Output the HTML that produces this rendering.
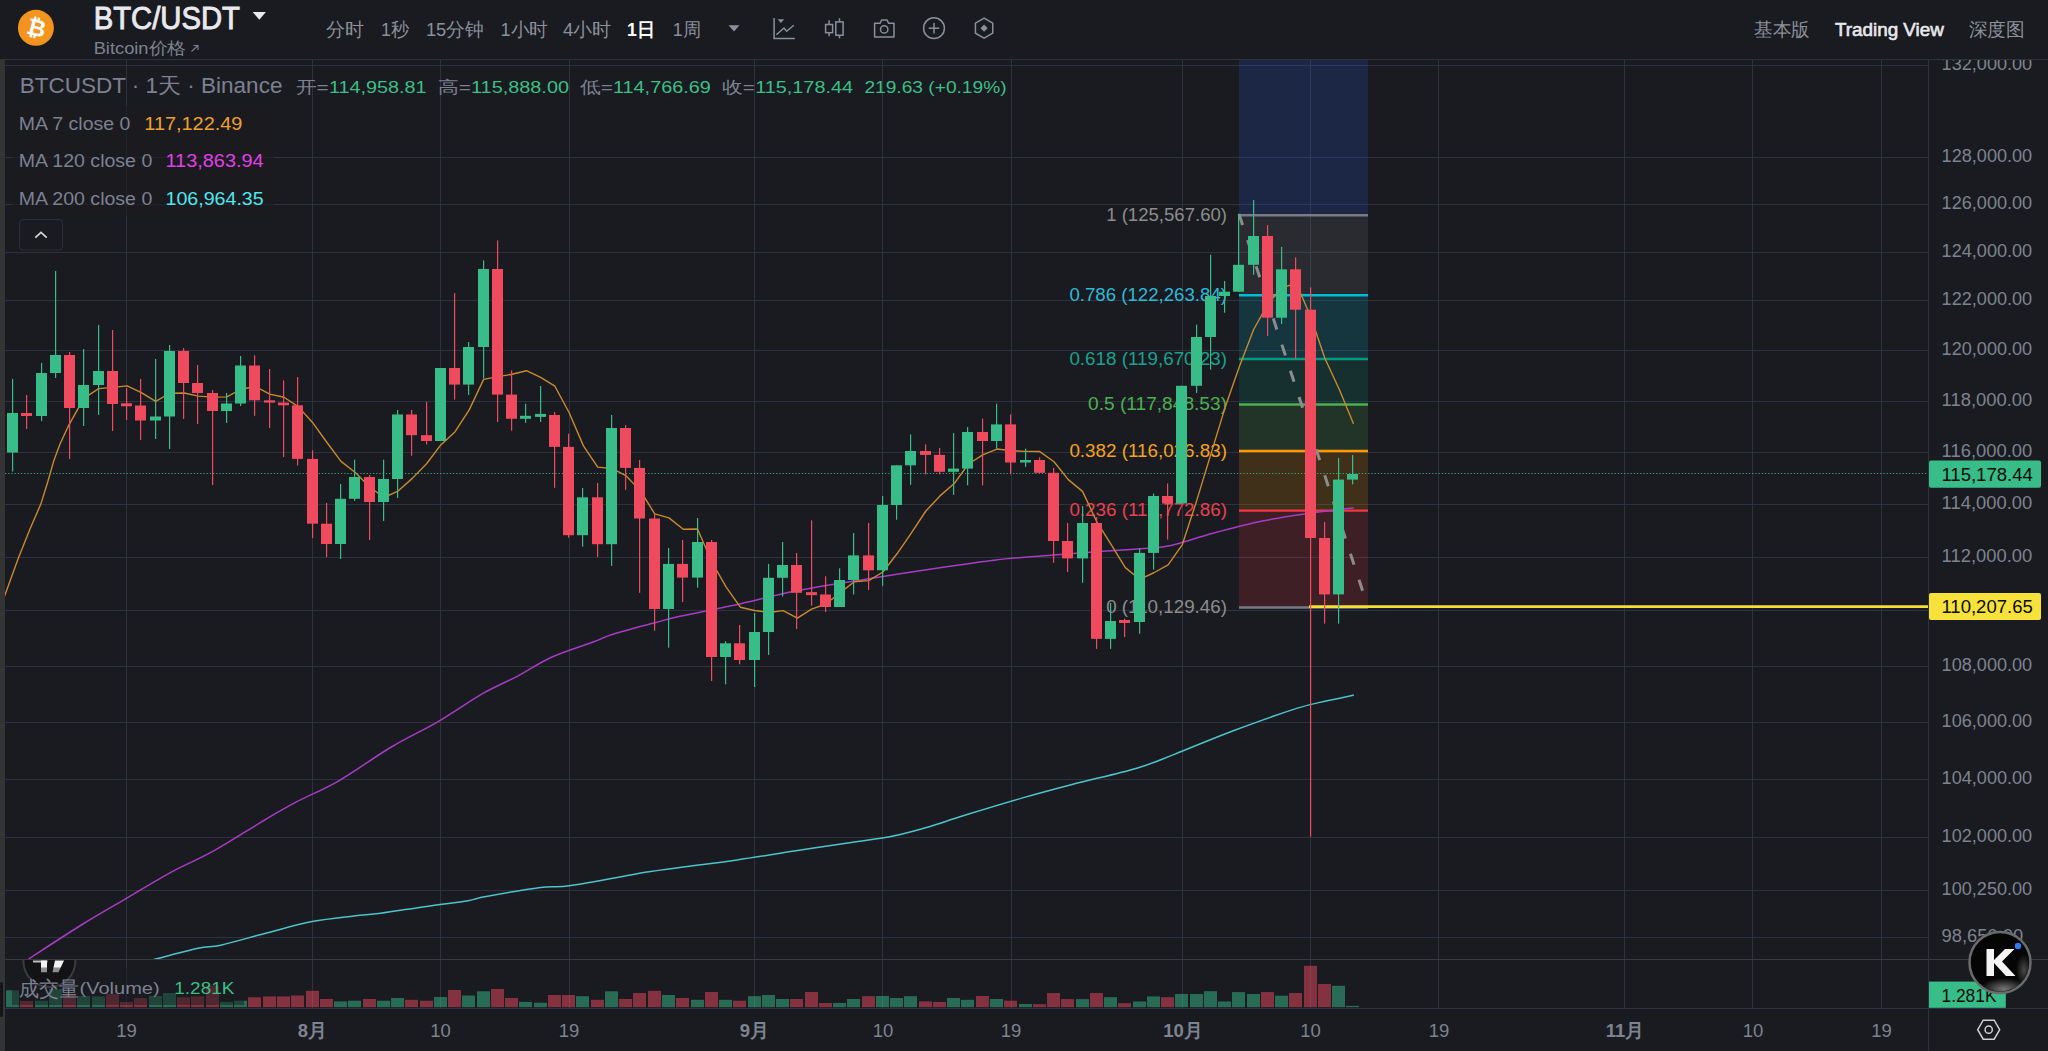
<!DOCTYPE html>
<html><head><meta charset="utf-8">
<style>
*{margin:0;padding:0;box-sizing:border-box}
html,body{width:2048px;height:1051px;overflow:hidden;background:#1a1b20;font-family:"Liberation Sans",sans-serif}
#root{position:relative;width:2048px;height:1051px;background:#1a1b20}
.abs{position:absolute;white-space:nowrap}
svg text{font-family:"Liberation Sans",sans-serif}
.fl{font-size:18px}
</style></head><body><div id="root">
<svg class="abs" style="left:0;top:0" width="2048" height="1051" viewBox="0 0 2048 1051">
<!-- header border / chart frame -->
<line x1="0" y1="59.5" x2="2048" y2="59.5" stroke="#2e323c" stroke-width="1"/>
<rect x="0" y="60" width="5" height="991" fill="#343434"/>
<line x1="5" y1="65.5" x2="1928" y2="65.5" stroke="#2e323e" stroke-width="1"/>
<line x1="5" y1="157.5" x2="1928" y2="157.5" stroke="#2e323e" stroke-width="1"/>
<line x1="5" y1="204.5" x2="1928" y2="204.5" stroke="#2e323e" stroke-width="1"/>
<line x1="5" y1="252.5" x2="1928" y2="252.5" stroke="#2e323e" stroke-width="1"/>
<line x1="5" y1="300.5" x2="1928" y2="300.5" stroke="#2e323e" stroke-width="1"/>
<line x1="5" y1="350.5" x2="1928" y2="350.5" stroke="#2e323e" stroke-width="1"/>
<line x1="5" y1="401.5" x2="1928" y2="401.5" stroke="#2e323e" stroke-width="1"/>
<line x1="5" y1="452.5" x2="1928" y2="452.5" stroke="#2e323e" stroke-width="1"/>
<line x1="5" y1="504.5" x2="1928" y2="504.5" stroke="#2e323e" stroke-width="1"/>
<line x1="5" y1="557.5" x2="1928" y2="557.5" stroke="#2e323e" stroke-width="1"/>
<line x1="5" y1="610.5" x2="1928" y2="610.5" stroke="#2e323e" stroke-width="1"/>
<line x1="5" y1="666.5" x2="1928" y2="666.5" stroke="#2e323e" stroke-width="1"/>
<line x1="5" y1="722.5" x2="1928" y2="722.5" stroke="#2e323e" stroke-width="1"/>
<line x1="5" y1="779.5" x2="1928" y2="779.5" stroke="#2e323e" stroke-width="1"/>
<line x1="5" y1="837.5" x2="1928" y2="837.5" stroke="#2e323e" stroke-width="1"/>
<line x1="5" y1="890.5" x2="1928" y2="890.5" stroke="#2e323e" stroke-width="1"/>
<line x1="5" y1="937.5" x2="1928" y2="937.5" stroke="#2e323e" stroke-width="1"/>
<line x1="126.5" y1="60" x2="126.5" y2="1008" stroke="#2e323e" stroke-width="1"/>
<line x1="312.5" y1="60" x2="312.5" y2="1008" stroke="#2e323e" stroke-width="1"/>
<line x1="440.5" y1="60" x2="440.5" y2="1008" stroke="#2e323e" stroke-width="1"/>
<line x1="569.5" y1="60" x2="569.5" y2="1008" stroke="#2e323e" stroke-width="1"/>
<line x1="754.5" y1="60" x2="754.5" y2="1008" stroke="#2e323e" stroke-width="1"/>
<line x1="882.5" y1="60" x2="882.5" y2="1008" stroke="#2e323e" stroke-width="1"/>
<line x1="1011.5" y1="60" x2="1011.5" y2="1008" stroke="#2e323e" stroke-width="1"/>
<line x1="1182.5" y1="60" x2="1182.5" y2="1008" stroke="#2e323e" stroke-width="1"/>
<line x1="1310.5" y1="60" x2="1310.5" y2="1008" stroke="#2e323e" stroke-width="1"/>
<line x1="1438.5" y1="60" x2="1438.5" y2="1008" stroke="#2e323e" stroke-width="1"/>
<line x1="1624.5" y1="60" x2="1624.5" y2="1008" stroke="#2e323e" stroke-width="1"/>
<line x1="1752.5" y1="60" x2="1752.5" y2="1008" stroke="#2e323e" stroke-width="1"/>
<line x1="1881.5" y1="60" x2="1881.5" y2="1008" stroke="#2e323e" stroke-width="1"/>
<rect x="1239" y="60" width="129" height="155.2" fill="#2962ff" fill-opacity="0.17"/>
<rect x="1239" y="215.2" width="129" height="80.0" fill="#787b86" fill-opacity="0.17"/>
<rect x="1239" y="295.2" width="129" height="63.80000000000001" fill="#00bcd4" fill-opacity="0.17"/>
<rect x="1239" y="359.0" width="129" height="45.5" fill="#089981" fill-opacity="0.17"/>
<rect x="1239" y="404.5" width="129" height="46.5" fill="#4caf50" fill-opacity="0.17"/>
<rect x="1239" y="451.0" width="129" height="59.60000000000002" fill="#ff9800" fill-opacity="0.17"/>
<rect x="1239" y="510.6" width="129" height="96.89999999999998" fill="#f23645" fill-opacity="0.17"/>
<line x1="1239" y1="215.2" x2="1368" y2="215.2" stroke="#787b86" stroke-width="2.4"/>
<line x1="1239" y1="295.2" x2="1368" y2="295.2" stroke="#00bcd4" stroke-width="2.4"/>
<line x1="1239" y1="359.0" x2="1368" y2="359.0" stroke="#089981" stroke-width="2.4"/>
<line x1="1239" y1="404.5" x2="1368" y2="404.5" stroke="#4caf50" stroke-width="2.4"/>
<line x1="1239" y1="451.0" x2="1368" y2="451.0" stroke="#ff9800" stroke-width="2.4"/>
<line x1="1239" y1="510.6" x2="1368" y2="510.6" stroke="#f23645" stroke-width="2.4"/>
<line x1="1239" y1="607.5" x2="1368" y2="607.5" stroke="#787b86" stroke-width="2.4"/>
<text x="1227" y="220.7" text-anchor="end" fill="#8c8c8c" class="fl" textLength="120.8" lengthAdjust="spacingAndGlyphs">1 (125,567.60)</text>
<text x="1227" y="300.7" text-anchor="end" fill="#2fb8d8" class="fl" textLength="157.6" lengthAdjust="spacingAndGlyphs">0.786 (122,263.84)</text>
<text x="1227" y="364.5" text-anchor="end" fill="#1aa190" class="fl" textLength="157.6" lengthAdjust="spacingAndGlyphs">0.618 (119,670.23)</text>
<text x="1227" y="410" text-anchor="end" fill="#4caf50" class="fl" textLength="139" lengthAdjust="spacingAndGlyphs">0.5 (117,848.53)</text>
<text x="1227" y="456.5" text-anchor="end" fill="#f7a21b" class="fl" textLength="157.6" lengthAdjust="spacingAndGlyphs">0.382 (116,026.83)</text>
<text x="1227" y="516.1" text-anchor="end" fill="#e8404f" class="fl" textLength="157.6" lengthAdjust="spacingAndGlyphs">0.236 (113,772.86)</text>
<text x="1227" y="613" text-anchor="end" fill="#8c8c8c" class="fl" textLength="120.8" lengthAdjust="spacingAndGlyphs">0 (110,129.46)</text>
<line x1="1239" y1="214" x2="1363" y2="592" stroke="#8c8c8c" stroke-width="3" stroke-dasharray="11.5 16"/>
<clipPath id="mclip"><rect x="5" y="60" width="1923" height="899"/></clipPath><g clip-path="url(#mclip)">
<path d="M152.3,960 C159.92,958.05 186.58,950.77 198,948.3 C209.42,945.83 209.38,947.75 220.8,945.2 C232.22,942.65 251.28,936.93 266.5,933 C281.72,929.07 297.52,924.43 312.1,921.6 C326.68,918.77 342.57,917.38 354,916 C365.43,914.62 368.65,914.9 380.7,913.3 C392.75,911.7 411.72,908.5 426.3,906.4 C440.88,904.3 458.68,902.28 468.2,900.7 C477.72,899.12 471.35,899.12 483.4,896.9 C495.45,894.68 525.9,889.3 540.5,887.4 C555.1,885.5 553.23,888.05 571,885.5 C588.77,882.95 628.93,875.1 647.1,872.1 C665.27,869.1 665,869.53 680,867.5 C695,865.47 718.07,862.63 737.1,859.9 C756.13,857.17 775.17,854.02 794.2,851.1 C813.23,848.18 834.8,844.93 851.3,842.4 C867.8,839.87 880.52,838.43 893.2,835.9 C905.88,833.37 915.35,830.68 927.4,827.2 C939.45,823.72 949.63,819.88 965.5,815 C981.37,810.12 1004.83,802.98 1022.6,797.9 C1040.37,792.82 1053.07,789.45 1072.1,784.5 C1091.13,779.55 1119.67,773.27 1136.8,768.2 C1153.93,763.13 1159.03,760.27 1174.9,754.1 C1190.77,747.93 1211.7,738.82 1232,731.2 C1252.3,723.58 1280.85,713.47 1296.7,708.4 C1312.55,703.33 1317.58,703.02 1327.1,700.8 C1336.62,698.58 1349.35,696.05 1353.8,695.1" fill="none" stroke="#4fc3cc" stroke-width="1.5"/>
<path d="M28.5,959 C37.7,953.08 67.52,933.53 83.7,923.5 C99.88,913.47 111,907.37 125.6,898.8 C140.2,890.23 156.7,880.03 171.3,872.1 C185.9,864.17 197.33,860.07 213.2,851.2 C229.07,842.33 252.55,827.15 266.5,818.9 C280.45,810.65 284.85,808.05 296.9,801.7 C308.95,795.35 322.93,790 338.8,780.8 C354.67,771.6 375.6,756.33 392.1,746.5 C408.6,736.67 422.58,730.68 437.8,721.8 C453.02,712.92 470.08,700.82 483.4,693.2 C496.72,685.58 506.27,682.13 517.7,676.1 C529.13,670.07 539.32,662.72 552,657 C564.68,651.28 583.65,645.6 593.8,641.8 C603.95,638 602.75,637.37 612.9,634.2 C623.05,631.03 643.52,625.78 654.7,622.8 C665.88,619.82 665.63,619.48 680,616.3 C694.37,613.12 721.87,607.88 740.9,603.7 C759.93,599.52 773.9,595.2 794.2,591.2 C814.5,587.2 837.32,583.77 862.7,579.7 C888.08,575.63 924.28,570.1 946.5,566.8 C968.72,563.5 978.25,561.87 996,559.9 C1013.75,557.93 1035.88,556.38 1053,555 C1070.12,553.62 1083.47,552.68 1098.7,551.6 C1113.93,550.52 1132.35,549.52 1144.4,548.5 C1156.45,547.48 1159.58,548.03 1171,545.5 C1182.42,542.97 1197.67,537.37 1212.9,533.3 C1228.13,529.23 1246.53,524.4 1262.4,521.1 C1278.27,517.8 1292.87,515.72 1308.1,513.5 C1323.33,511.28 1346.18,508.75 1353.8,507.8" fill="none" stroke="#a63cc4" stroke-width="1.5"/>
<polyline points="0,610 4.6,595.9 18.3,558.2 30,529 41.1,503.4 48,481 53.7,461.1 60,444 68.5,425.7 78.8,407.4 89.1,394.9 98.6,388.63 112.86,387.36 127.12,385.87 141.38,392.64 155.64,401.46 169.9,393.26 184.16,392.98 198.42,396.13 212.68,397.13 226.94,396.85 241.2,388.99 255.46,386.69 269.72,394.09 283.98,397.28 298.24,406.62 312.5,422.44 326.76,442.24 341.02,461.41 355.28,472.47 369.54,486.8 383.8,497.51 398.06,491.04 412.32,478.38 426.58,463.77 440.84,444.95 455.1,431.71 469.36,409.6 483.62,379.38 497.88,376.57 512.14,374.26 526.4,370.73 540.66,377.41 554.92,386.21 569.18,412.73 583.44,445.85 597.7,467.13 611.96,468.47 626.22,475.99 640.48,490.86 654.74,513.82 669,517.87 683.26,529.29 697.52,528.98 711.78,561.73 726.04,586.95 740.3,607.22 754.56,610.49 768.82,612.51 783.08,610.68 797.34,618.05 811.6,609.16 825.86,604.01 840.12,592.66 854.38,581.74 868.64,580.67 882.9,571.98 897.16,553.55 911.42,532.91 925.68,511.25 939.94,495.9 954.2,483.59 968.46,464.01 982.72,454.91 996.98,449.05 1011.24,450.69 1025.5,451.42 1039.76,451.56 1054.02,461.74 1068.28,479.65 1082.54,491.38 1096.8,521.78 1111.06,544.36 1125.32,567.62 1139.58,579.29 1153.84,572.74 1168.1,564.8 1182.36,544.53 1196.62,500.88 1210.88,454.13 1225.14,407.33 1239.4,366.46 1253.66,329.53 1267.92,303.8 1282.18,287.33 1296.44,283.48 1310.7,316.74 1324.96,358.51 1339.22,389.22 1353.48,423.82" fill="none" stroke="#c88a2e" stroke-width="1.4" stroke-linejoin="round"/>
</g>
<line x1="5" y1="473.5" x2="1928" y2="473.5" stroke="#38bd89" stroke-width="1" stroke-dasharray="1.3 1.9" opacity="0.85"/>
<line x1="1309" y1="606.6" x2="1928" y2="606.6" stroke="#f5e03a" stroke-width="2.6"/>
<rect x="12" y="379" width="1.2" height="92.5" fill="#38bd89"/>
<rect x="7" y="413" width="11" height="39.5" fill="#38bd89"/>
<rect x="26" y="395" width="1.2" height="34" fill="#f04a5f"/>
<rect x="21" y="413" width="11" height="3" fill="#f04a5f"/>
<rect x="41" y="363" width="1.2" height="58" fill="#38bd89"/>
<rect x="36" y="373" width="11" height="43" fill="#38bd89"/>
<rect x="55" y="271" width="1.2" height="107" fill="#38bd89"/>
<rect x="50" y="355" width="11" height="18" fill="#38bd89"/>
<rect x="69" y="352" width="1.2" height="107" fill="#f04a5f"/>
<rect x="64" y="355" width="11" height="53" fill="#f04a5f"/>
<rect x="83" y="349" width="1.2" height="77" fill="#38bd89"/>
<rect x="78" y="385" width="11" height="23" fill="#38bd89"/>
<rect x="98" y="325" width="1.2" height="90" fill="#38bd89"/>
<rect x="93" y="371" width="11" height="14" fill="#38bd89"/>
<rect x="112" y="330" width="1.2" height="101" fill="#f04a5f"/>
<rect x="107" y="371" width="11" height="33" fill="#f04a5f"/>
<rect x="126" y="388" width="1.2" height="32" fill="#f04a5f"/>
<rect x="121" y="403.25" width="11" height="3" fill="#f04a5f"/>
<rect x="140" y="379" width="1.2" height="61" fill="#f04a5f"/>
<rect x="135" y="405.5" width="11" height="15" fill="#f04a5f"/>
<rect x="155" y="359" width="1.2" height="80" fill="#38bd89"/>
<rect x="150" y="416.5" width="11" height="4" fill="#38bd89"/>
<rect x="169" y="345" width="1.2" height="104" fill="#38bd89"/>
<rect x="164" y="351" width="11" height="65.5" fill="#38bd89"/>
<rect x="183" y="348" width="1.2" height="71" fill="#f04a5f"/>
<rect x="178" y="351" width="11" height="32" fill="#f04a5f"/>
<rect x="197" y="365" width="1.2" height="59" fill="#f04a5f"/>
<rect x="192" y="383" width="11" height="10" fill="#f04a5f"/>
<rect x="212" y="390" width="1.2" height="95" fill="#f04a5f"/>
<rect x="207" y="393" width="11" height="18" fill="#f04a5f"/>
<rect x="226" y="393" width="1.2" height="30" fill="#38bd89"/>
<rect x="221" y="403.5" width="11" height="7.5" fill="#38bd89"/>
<rect x="240" y="356" width="1.2" height="50" fill="#38bd89"/>
<rect x="235" y="365.5" width="11" height="38" fill="#38bd89"/>
<rect x="254" y="355.4" width="1.2" height="60.4" fill="#f04a5f"/>
<rect x="249" y="365.5" width="11" height="34.8" fill="#f04a5f"/>
<rect x="269" y="369" width="1.2" height="59" fill="#f04a5f"/>
<rect x="264" y="400.3" width="11" height="2.3" fill="#f04a5f"/>
<rect x="283" y="380.4" width="1.2" height="76.6" fill="#f04a5f"/>
<rect x="278" y="402.6" width="11" height="2.7" fill="#f04a5f"/>
<rect x="297" y="377" width="1.2" height="88.5" fill="#f04a5f"/>
<rect x="292" y="405.3" width="11" height="53.6" fill="#f04a5f"/>
<rect x="312" y="450.3" width="1.2" height="87.7" fill="#f04a5f"/>
<rect x="307" y="458.9" width="11" height="64.8" fill="#f04a5f"/>
<rect x="326" y="503" width="1.2" height="54" fill="#f04a5f"/>
<rect x="321" y="523.7" width="11" height="20.3" fill="#f04a5f"/>
<rect x="340" y="484" width="1.2" height="75" fill="#38bd89"/>
<rect x="335" y="498.8" width="11" height="45.2" fill="#38bd89"/>
<rect x="354" y="459.7" width="1.2" height="41.1" fill="#38bd89"/>
<rect x="349" y="477" width="11" height="21.8" fill="#38bd89"/>
<rect x="369" y="475" width="1.2" height="65" fill="#f04a5f"/>
<rect x="364" y="477" width="11" height="25" fill="#f04a5f"/>
<rect x="383" y="459.7" width="1.2" height="61.3" fill="#38bd89"/>
<rect x="378" y="479" width="11" height="23" fill="#38bd89"/>
<rect x="397" y="410" width="1.2" height="88" fill="#38bd89"/>
<rect x="392" y="414.5" width="11" height="64.5" fill="#38bd89"/>
<rect x="411" y="410" width="1.2" height="45.7" fill="#f04a5f"/>
<rect x="406" y="414.5" width="11" height="20.7" fill="#f04a5f"/>
<rect x="426" y="402" width="1.2" height="42.5" fill="#f04a5f"/>
<rect x="421" y="435.2" width="11" height="5.8" fill="#f04a5f"/>
<rect x="440" y="368" width="1.2" height="73" fill="#38bd89"/>
<rect x="435" y="368" width="11" height="73" fill="#38bd89"/>
<rect x="454" y="293" width="1.2" height="106.6" fill="#f04a5f"/>
<rect x="449" y="368" width="11" height="16.6" fill="#f04a5f"/>
<rect x="468" y="342" width="1.2" height="53" fill="#38bd89"/>
<rect x="463" y="347" width="11" height="37.6" fill="#38bd89"/>
<rect x="483" y="260.4" width="1.2" height="118" fill="#38bd89"/>
<rect x="478" y="269" width="11" height="78" fill="#38bd89"/>
<rect x="497" y="240.5" width="1.2" height="181.5" fill="#f04a5f"/>
<rect x="492" y="269" width="11" height="125.6" fill="#f04a5f"/>
<rect x="511" y="370.4" width="1.2" height="60.3" fill="#f04a5f"/>
<rect x="506" y="394.6" width="11" height="24.2" fill="#f04a5f"/>
<rect x="525" y="403.8" width="1.2" height="19" fill="#38bd89"/>
<rect x="520" y="415.8" width="11" height="3" fill="#38bd89"/>
<rect x="540" y="386" width="1.2" height="36" fill="#38bd89"/>
<rect x="535" y="413.9" width="11" height="3" fill="#38bd89"/>
<rect x="554" y="412" width="1.2" height="75.8" fill="#f04a5f"/>
<rect x="549" y="415" width="11" height="31.9" fill="#f04a5f"/>
<rect x="568" y="433.7" width="1.2" height="104" fill="#f04a5f"/>
<rect x="563" y="446.9" width="11" height="88.3" fill="#f04a5f"/>
<rect x="582" y="488" width="1.2" height="58.7" fill="#38bd89"/>
<rect x="577" y="497.3" width="11" height="37.9" fill="#38bd89"/>
<rect x="597" y="483" width="1.2" height="74" fill="#f04a5f"/>
<rect x="592" y="497.3" width="11" height="46.9" fill="#f04a5f"/>
<rect x="611" y="415" width="1.2" height="150.9" fill="#38bd89"/>
<rect x="606" y="428" width="11" height="116.2" fill="#38bd89"/>
<rect x="625" y="425" width="1.2" height="64.8" fill="#f04a5f"/>
<rect x="620" y="428" width="11" height="39.9" fill="#f04a5f"/>
<rect x="639" y="460" width="1.2" height="132.8" fill="#f04a5f"/>
<rect x="634" y="467.9" width="11" height="50.6" fill="#f04a5f"/>
<rect x="654" y="514" width="1.2" height="116.7" fill="#f04a5f"/>
<rect x="649" y="518.5" width="11" height="90.5" fill="#f04a5f"/>
<rect x="668" y="548" width="1.2" height="99.6" fill="#38bd89"/>
<rect x="663" y="563.9" width="11" height="45.1" fill="#38bd89"/>
<rect x="682" y="540" width="1.2" height="62" fill="#f04a5f"/>
<rect x="677" y="563.9" width="11" height="13.7" fill="#f04a5f"/>
<rect x="697" y="518" width="1.2" height="69.6" fill="#38bd89"/>
<rect x="692" y="542" width="11" height="35.6" fill="#38bd89"/>
<rect x="711" y="540" width="1.2" height="141" fill="#f04a5f"/>
<rect x="706" y="542" width="11" height="115" fill="#f04a5f"/>
<rect x="725" y="641.2" width="1.2" height="43.1" fill="#38bd89"/>
<rect x="720" y="643.3" width="11" height="13.7" fill="#38bd89"/>
<rect x="739" y="625" width="1.2" height="39.3" fill="#f04a5f"/>
<rect x="734" y="643.3" width="11" height="16.7" fill="#f04a5f"/>
<rect x="754" y="613" width="1.2" height="74" fill="#38bd89"/>
<rect x="749" y="632" width="11" height="28" fill="#38bd89"/>
<rect x="768" y="563.9" width="1.2" height="91.1" fill="#38bd89"/>
<rect x="763" y="577.8" width="11" height="54.2" fill="#38bd89"/>
<rect x="782" y="542" width="1.2" height="54.5" fill="#38bd89"/>
<rect x="777" y="565" width="11" height="12.8" fill="#38bd89"/>
<rect x="796" y="553" width="1.2" height="76" fill="#f04a5f"/>
<rect x="791" y="565" width="11" height="27.8" fill="#f04a5f"/>
<rect x="811" y="520.4" width="1.2" height="85.3" fill="#f04a5f"/>
<rect x="806" y="592.15" width="11" height="3" fill="#f04a5f"/>
<rect x="825" y="576.3" width="1.2" height="35.7" fill="#f04a5f"/>
<rect x="820" y="594.5" width="11" height="12.5" fill="#f04a5f"/>
<rect x="839" y="568.3" width="1.2" height="38.7" fill="#38bd89"/>
<rect x="834" y="580" width="11" height="27" fill="#38bd89"/>
<rect x="853" y="533" width="1.2" height="61.5" fill="#38bd89"/>
<rect x="848" y="555.4" width="11" height="24.6" fill="#38bd89"/>
<rect x="868" y="523" width="1.2" height="67" fill="#f04a5f"/>
<rect x="863" y="555.4" width="11" height="14.9" fill="#f04a5f"/>
<rect x="882" y="496" width="1.2" height="89.8" fill="#38bd89"/>
<rect x="877" y="505" width="11" height="65.3" fill="#38bd89"/>
<rect x="896" y="465.3" width="1.2" height="54.4" fill="#38bd89"/>
<rect x="891" y="465.3" width="11" height="39.7" fill="#38bd89"/>
<rect x="910" y="434.4" width="1.2" height="50.4" fill="#38bd89"/>
<rect x="905" y="451" width="11" height="14.3" fill="#38bd89"/>
<rect x="925" y="444.4" width="1.2" height="29.9" fill="#f04a5f"/>
<rect x="920" y="451" width="11" height="3.9" fill="#f04a5f"/>
<rect x="939" y="447.9" width="1.2" height="26.4" fill="#f04a5f"/>
<rect x="934" y="454.9" width="11" height="16.9" fill="#f04a5f"/>
<rect x="953" y="433" width="1.2" height="61.8" fill="#38bd89"/>
<rect x="948" y="468.6" width="11" height="3.2" fill="#38bd89"/>
<rect x="967" y="427" width="1.2" height="58.3" fill="#38bd89"/>
<rect x="962" y="432" width="11" height="36.6" fill="#38bd89"/>
<rect x="982" y="418.7" width="1.2" height="66.6" fill="#f04a5f"/>
<rect x="977" y="432" width="11" height="9" fill="#f04a5f"/>
<rect x="996" y="403.7" width="1.2" height="44.9" fill="#38bd89"/>
<rect x="991" y="424.4" width="11" height="16.6" fill="#38bd89"/>
<rect x="1010" y="414.5" width="1.2" height="59.8" fill="#f04a5f"/>
<rect x="1005" y="424.4" width="11" height="38.1" fill="#f04a5f"/>
<rect x="1025" y="448.6" width="1.2" height="18.4" fill="#38bd89"/>
<rect x="1020" y="460" width="11" height="2.5" fill="#38bd89"/>
<rect x="1039" y="457.4" width="1.2" height="15.4" fill="#f04a5f"/>
<rect x="1034" y="460" width="11" height="12.8" fill="#f04a5f"/>
<rect x="1053" y="468" width="1.2" height="94.8" fill="#f04a5f"/>
<rect x="1048" y="472.8" width="11" height="68.2" fill="#f04a5f"/>
<rect x="1067" y="523" width="1.2" height="49" fill="#f04a5f"/>
<rect x="1062" y="541" width="11" height="17.4" fill="#f04a5f"/>
<rect x="1082" y="506" width="1.2" height="76.8" fill="#38bd89"/>
<rect x="1077" y="523" width="11" height="35.4" fill="#38bd89"/>
<rect x="1096" y="517.2" width="1.2" height="131.7" fill="#f04a5f"/>
<rect x="1091" y="523" width="11" height="115.9" fill="#f04a5f"/>
<rect x="1110" y="603" width="1.2" height="45.9" fill="#38bd89"/>
<rect x="1105" y="621" width="11" height="17.9" fill="#38bd89"/>
<rect x="1124" y="618.7" width="1.2" height="18.3" fill="#f04a5f"/>
<rect x="1119" y="620" width="11" height="3" fill="#f04a5f"/>
<rect x="1139" y="548.4" width="1.2" height="85.3" fill="#38bd89"/>
<rect x="1134" y="552.9" width="11" height="69.1" fill="#38bd89"/>
<rect x="1153" y="493.5" width="1.2" height="76.1" fill="#38bd89"/>
<rect x="1148" y="496" width="11" height="56.9" fill="#38bd89"/>
<rect x="1167" y="483.5" width="1.2" height="56.1" fill="#f04a5f"/>
<rect x="1162" y="496" width="11" height="7.5" fill="#f04a5f"/>
<rect x="1181" y="385.8" width="1.2" height="117.2" fill="#38bd89"/>
<rect x="1176" y="385.8" width="11" height="117.7" fill="#38bd89"/>
<rect x="1196" y="324.7" width="1.2" height="68.3" fill="#38bd89"/>
<rect x="1191" y="337" width="11" height="48.8" fill="#38bd89"/>
<rect x="1210" y="254.8" width="1.2" height="114.8" fill="#38bd89"/>
<rect x="1205" y="296" width="11" height="41" fill="#38bd89"/>
<rect x="1224" y="281" width="1.2" height="31.7" fill="#38bd89"/>
<rect x="1219" y="291.7" width="11" height="4.3" fill="#38bd89"/>
<rect x="1238" y="213.7" width="1.2" height="78" fill="#38bd89"/>
<rect x="1233" y="264.8" width="11" height="26.9" fill="#38bd89"/>
<rect x="1253" y="200" width="1.2" height="74.8" fill="#38bd89"/>
<rect x="1248" y="236" width="11" height="28.8" fill="#38bd89"/>
<rect x="1267" y="225" width="1.2" height="110.9" fill="#f04a5f"/>
<rect x="1262" y="236" width="11" height="81.7" fill="#f04a5f"/>
<rect x="1281" y="246.9" width="1.2" height="77.1" fill="#38bd89"/>
<rect x="1276" y="269.3" width="11" height="48.4" fill="#38bd89"/>
<rect x="1295" y="257.3" width="1.2" height="101.7" fill="#f04a5f"/>
<rect x="1290" y="269.3" width="11" height="40.4" fill="#f04a5f"/>
<rect x="1310" y="287.3" width="1.2" height="549.4" fill="#f04a5f"/>
<rect x="1305" y="309.7" width="11" height="228.3" fill="#f04a5f"/>
<rect x="1324" y="522" width="1.2" height="101.6" fill="#f04a5f"/>
<rect x="1319" y="538" width="11" height="56.4" fill="#f04a5f"/>
<rect x="1338" y="458" width="1.2" height="165.6" fill="#38bd89"/>
<rect x="1333" y="479.6" width="11" height="114.8" fill="#38bd89"/>
<rect x="1352" y="455" width="1.2" height="29.4" fill="#38bd89"/>
<rect x="1347" y="474" width="11" height="5.6" fill="#38bd89"/>
<rect x="6" y="990.3" width="13" height="16.9" fill="#38bd89" fill-opacity="0.5"/>
<rect x="20" y="1001" width="13" height="6.2" fill="#f04a5f" fill-opacity="0.5"/>
<rect x="35" y="1000.7" width="13" height="6.5" fill="#38bd89" fill-opacity="0.5"/>
<rect x="49" y="989" width="13" height="18.2" fill="#38bd89" fill-opacity="0.5"/>
<rect x="63" y="993.8" width="13" height="13.4" fill="#f04a5f" fill-opacity="0.5"/>
<rect x="77" y="996" width="13" height="11.2" fill="#38bd89" fill-opacity="0.5"/>
<rect x="92" y="996.4" width="13" height="10.8" fill="#38bd89" fill-opacity="0.5"/>
<rect x="106" y="994.2" width="13" height="13" fill="#f04a5f" fill-opacity="0.5"/>
<rect x="120" y="1002" width="13" height="5.2" fill="#f04a5f" fill-opacity="0.5"/>
<rect x="134" y="998" width="13" height="9.2" fill="#f04a5f" fill-opacity="0.5"/>
<rect x="149" y="996" width="13" height="11.2" fill="#38bd89" fill-opacity="0.5"/>
<rect x="163" y="993" width="13" height="14.2" fill="#38bd89" fill-opacity="0.5"/>
<rect x="177" y="997.3" width="13" height="9.9" fill="#f04a5f" fill-opacity="0.5"/>
<rect x="191" y="996.4" width="13" height="10.8" fill="#f04a5f" fill-opacity="0.5"/>
<rect x="206" y="985.6" width="13" height="21.6" fill="#f04a5f" fill-opacity="0.5"/>
<rect x="220" y="1001.9" width="13" height="5.3" fill="#38bd89" fill-opacity="0.5"/>
<rect x="234" y="1000.7" width="13" height="6.5" fill="#38bd89" fill-opacity="0.5"/>
<rect x="248" y="997.3" width="13" height="9.9" fill="#f04a5f" fill-opacity="0.5"/>
<rect x="263" y="996.4" width="13" height="10.8" fill="#f04a5f" fill-opacity="0.5"/>
<rect x="277" y="996.4" width="13" height="10.8" fill="#f04a5f" fill-opacity="0.5"/>
<rect x="291" y="995.5" width="13" height="11.7" fill="#f04a5f" fill-opacity="0.5"/>
<rect x="306" y="990.8" width="13" height="16.4" fill="#f04a5f" fill-opacity="0.5"/>
<rect x="320" y="999" width="13" height="8.2" fill="#f04a5f" fill-opacity="0.5"/>
<rect x="334" y="1001.4" width="13" height="5.8" fill="#38bd89" fill-opacity="0.5"/>
<rect x="348" y="1000.7" width="13" height="6.5" fill="#38bd89" fill-opacity="0.5"/>
<rect x="363" y="999" width="13" height="8.2" fill="#f04a5f" fill-opacity="0.5"/>
<rect x="377" y="1000.7" width="13" height="6.5" fill="#38bd89" fill-opacity="0.5"/>
<rect x="391" y="998" width="13" height="9.2" fill="#38bd89" fill-opacity="0.5"/>
<rect x="405" y="999.8" width="13" height="7.4" fill="#f04a5f" fill-opacity="0.5"/>
<rect x="420" y="1000.7" width="13" height="6.5" fill="#f04a5f" fill-opacity="0.5"/>
<rect x="434" y="997" width="13" height="10.2" fill="#38bd89" fill-opacity="0.5"/>
<rect x="448" y="990" width="13" height="17.2" fill="#f04a5f" fill-opacity="0.5"/>
<rect x="462" y="995.5" width="13" height="11.7" fill="#38bd89" fill-opacity="0.5"/>
<rect x="477" y="991.3" width="13" height="15.9" fill="#38bd89" fill-opacity="0.5"/>
<rect x="491" y="989" width="13" height="18.2" fill="#f04a5f" fill-opacity="0.5"/>
<rect x="505" y="998" width="13" height="9.2" fill="#f04a5f" fill-opacity="0.5"/>
<rect x="519" y="1001.9" width="13" height="5.3" fill="#38bd89" fill-opacity="0.5"/>
<rect x="534" y="1002.7" width="13" height="4.5" fill="#38bd89" fill-opacity="0.5"/>
<rect x="548" y="995" width="13" height="12.2" fill="#f04a5f" fill-opacity="0.5"/>
<rect x="562" y="995" width="13" height="12.2" fill="#f04a5f" fill-opacity="0.5"/>
<rect x="576" y="996.2" width="13" height="11" fill="#38bd89" fill-opacity="0.5"/>
<rect x="591" y="999.8" width="13" height="7.4" fill="#f04a5f" fill-opacity="0.5"/>
<rect x="605" y="991.3" width="13" height="15.9" fill="#38bd89" fill-opacity="0.5"/>
<rect x="619" y="999" width="13" height="8.2" fill="#f04a5f" fill-opacity="0.5"/>
<rect x="633" y="993" width="13" height="14.2" fill="#f04a5f" fill-opacity="0.5"/>
<rect x="648" y="990.8" width="13" height="16.4" fill="#f04a5f" fill-opacity="0.5"/>
<rect x="662" y="995" width="13" height="12.2" fill="#38bd89" fill-opacity="0.5"/>
<rect x="676" y="998" width="13" height="9.2" fill="#f04a5f" fill-opacity="0.5"/>
<rect x="691" y="999.8" width="13" height="7.4" fill="#38bd89" fill-opacity="0.5"/>
<rect x="705" y="992" width="13" height="15.2" fill="#f04a5f" fill-opacity="0.5"/>
<rect x="719" y="999.8" width="13" height="7.4" fill="#38bd89" fill-opacity="0.5"/>
<rect x="733" y="1000.7" width="13" height="6.5" fill="#f04a5f" fill-opacity="0.5"/>
<rect x="748" y="996.2" width="13" height="11" fill="#38bd89" fill-opacity="0.5"/>
<rect x="762" y="995" width="13" height="12.2" fill="#38bd89" fill-opacity="0.5"/>
<rect x="776" y="999" width="13" height="8.2" fill="#38bd89" fill-opacity="0.5"/>
<rect x="790" y="999" width="13" height="8.2" fill="#f04a5f" fill-opacity="0.5"/>
<rect x="805" y="992" width="13" height="15.2" fill="#f04a5f" fill-opacity="0.5"/>
<rect x="819" y="1003" width="13" height="4.2" fill="#f04a5f" fill-opacity="0.5"/>
<rect x="833" y="1003" width="13" height="4.2" fill="#38bd89" fill-opacity="0.5"/>
<rect x="847" y="999" width="13" height="8.2" fill="#38bd89" fill-opacity="0.5"/>
<rect x="862" y="996.2" width="13" height="11" fill="#f04a5f" fill-opacity="0.5"/>
<rect x="876" y="996" width="13" height="11.2" fill="#38bd89" fill-opacity="0.5"/>
<rect x="890" y="998" width="13" height="9.2" fill="#38bd89" fill-opacity="0.5"/>
<rect x="904" y="996.2" width="13" height="11" fill="#38bd89" fill-opacity="0.5"/>
<rect x="919" y="1001.4" width="13" height="5.8" fill="#f04a5f" fill-opacity="0.5"/>
<rect x="933" y="1001.9" width="13" height="5.3" fill="#f04a5f" fill-opacity="0.5"/>
<rect x="947" y="998" width="13" height="9.2" fill="#38bd89" fill-opacity="0.5"/>
<rect x="961" y="999.8" width="13" height="7.4" fill="#38bd89" fill-opacity="0.5"/>
<rect x="976" y="996" width="13" height="11.2" fill="#f04a5f" fill-opacity="0.5"/>
<rect x="990" y="999" width="13" height="8.2" fill="#38bd89" fill-opacity="0.5"/>
<rect x="1004" y="1000.7" width="13" height="6.5" fill="#f04a5f" fill-opacity="0.5"/>
<rect x="1019" y="1004" width="13" height="3.2" fill="#38bd89" fill-opacity="0.5"/>
<rect x="1033" y="1004.2" width="13" height="3" fill="#f04a5f" fill-opacity="0.5"/>
<rect x="1047" y="993" width="13" height="14.2" fill="#f04a5f" fill-opacity="0.5"/>
<rect x="1061" y="999.1" width="13" height="8.1" fill="#f04a5f" fill-opacity="0.5"/>
<rect x="1076" y="999.1" width="13" height="8.1" fill="#38bd89" fill-opacity="0.5"/>
<rect x="1090" y="993" width="13" height="14.2" fill="#f04a5f" fill-opacity="0.5"/>
<rect x="1104" y="997.2" width="13" height="10" fill="#38bd89" fill-opacity="0.5"/>
<rect x="1118" y="1003.2" width="13" height="4" fill="#f04a5f" fill-opacity="0.5"/>
<rect x="1133" y="1001.5" width="13" height="5.7" fill="#38bd89" fill-opacity="0.5"/>
<rect x="1147" y="996.4" width="13" height="10.8" fill="#38bd89" fill-opacity="0.5"/>
<rect x="1161" y="997.2" width="13" height="10" fill="#f04a5f" fill-opacity="0.5"/>
<rect x="1175" y="994" width="13" height="13.2" fill="#38bd89" fill-opacity="0.5"/>
<rect x="1190" y="994" width="13" height="13.2" fill="#38bd89" fill-opacity="0.5"/>
<rect x="1204" y="991.2" width="13" height="16" fill="#38bd89" fill-opacity="0.5"/>
<rect x="1218" y="1001.5" width="13" height="5.7" fill="#38bd89" fill-opacity="0.5"/>
<rect x="1232" y="992.1" width="13" height="15.1" fill="#38bd89" fill-opacity="0.5"/>
<rect x="1247" y="994" width="13" height="13.2" fill="#38bd89" fill-opacity="0.5"/>
<rect x="1261" y="992.1" width="13" height="15.1" fill="#f04a5f" fill-opacity="0.5"/>
<rect x="1275" y="995.7" width="13" height="11.5" fill="#38bd89" fill-opacity="0.5"/>
<rect x="1289" y="993" width="13" height="14.2" fill="#f04a5f" fill-opacity="0.5"/>
<rect x="1304" y="965.8" width="13" height="41.4" fill="#f04a5f" fill-opacity="0.5"/>
<rect x="1318" y="984" width="13" height="23.2" fill="#f04a5f" fill-opacity="0.5"/>
<rect x="1332" y="985.8" width="13" height="21.4" fill="#38bd89" fill-opacity="0.5"/>
<rect x="1346" y="1005.8" width="13" height="1.4" fill="#38bd89" fill-opacity="0.5"/>
<!-- pane separator -->
<line x1="5" y1="959.5" x2="1928" y2="959.5" stroke="#3a3b40" stroke-width="1.2"/>
<!-- axis borders -->
<line x1="1928.5" y1="60" x2="1928.5" y2="1051" stroke="#2e323c" stroke-width="1"/>
<line x1="5" y1="1008.5" x2="2048" y2="1008.5" stroke="#2e323c" stroke-width="1.2"/>
<rect x="12" y="106" width="262" height="110" fill="#1a1b20" fill-opacity="0.6"/>
<text x="19.8" y="93.4" font-size="21.5" fill="#7c8192" text-anchor="start" font-weight="normal" textLength="262.6" lengthAdjust="spacingAndGlyphs">BTCUSDT · 1天 · Binance</text>
<text x="295.8" y="93.4" font-size="17" fill="#7c8192" text-anchor="start" font-weight="normal" textLength="33" lengthAdjust="spacingAndGlyphs">开=</text>
<text x="328.9" y="92.8" font-size="17" fill="#3cbf87" text-anchor="start" font-weight="normal" textLength="97.7" lengthAdjust="spacingAndGlyphs">114,958.81</text>
<text x="438" y="93.4" font-size="17" fill="#7c8192" text-anchor="start" font-weight="normal" textLength="33" lengthAdjust="spacingAndGlyphs">高=</text>
<text x="471" y="92.8" font-size="17" fill="#3cbf87" text-anchor="start" font-weight="normal" textLength="98" lengthAdjust="spacingAndGlyphs">115,888.00</text>
<text x="580" y="93.4" font-size="17" fill="#7c8192" text-anchor="start" font-weight="normal" textLength="33" lengthAdjust="spacingAndGlyphs">低=</text>
<text x="613" y="92.8" font-size="17" fill="#3cbf87" text-anchor="start" font-weight="normal" textLength="97.8" lengthAdjust="spacingAndGlyphs">114,766.69</text>
<text x="722" y="93.4" font-size="17" fill="#7c8192" text-anchor="start" font-weight="normal" textLength="33" lengthAdjust="spacingAndGlyphs">收=</text>
<text x="755.2" y="92.8" font-size="17" fill="#3cbf87" text-anchor="start" font-weight="normal" textLength="97.8" lengthAdjust="spacingAndGlyphs">115,178.44</text>
<text x="864.4" y="92.8" font-size="17" fill="#3cbf87" text-anchor="start" font-weight="normal" textLength="142.2" lengthAdjust="spacingAndGlyphs">219.63 (+0.19%)</text>
<text x="18.7" y="129.9" font-size="18" fill="#7c8192" text-anchor="start" font-weight="normal" textLength="111.7" lengthAdjust="spacingAndGlyphs">MA 7 close 0</text>
<text x="144.3" y="129.9" font-size="18" fill="#f0a030" text-anchor="start" font-weight="normal" textLength="98.1" lengthAdjust="spacingAndGlyphs">117,122.49</text>
<text x="18.7" y="167.3" font-size="18" fill="#7c8192" text-anchor="start" font-weight="normal" textLength="133.6" lengthAdjust="spacingAndGlyphs">MA 120 close 0</text>
<text x="165.5" y="167.3" font-size="18" fill="#e040e8" text-anchor="start" font-weight="normal" textLength="98.2" lengthAdjust="spacingAndGlyphs">113,863.94</text>
<text x="18.7" y="204.6" font-size="18" fill="#7c8192" text-anchor="start" font-weight="normal" textLength="133.6" lengthAdjust="spacingAndGlyphs">MA 200 close 0</text>
<text x="165.5" y="204.6" font-size="18" fill="#50e6ee" text-anchor="start" font-weight="normal" textLength="98.2" lengthAdjust="spacingAndGlyphs">106,964.35</text>
<rect x="19.5" y="219.5" width="43" height="30.5" rx="3.5" fill="none" stroke="#2c2f37" stroke-width="1"/>
<polyline points="35.3,237.6 41,232.4 46.7,237.6" fill="none" stroke="#d8d8d8" stroke-width="1.6"/>
<rect x="12" y="968" width="232" height="37" fill="#1a1b20" fill-opacity="0.5"/>
<clipPath id="vclip"><rect x="5" y="960" width="1923" height="48"/></clipPath>
<g clip-path="url(#vclip)"><circle cx="49.4" cy="961" r="26" fill="#131316" stroke="#3c3c3e" stroke-width="2"/><rect x="33" y="960.5" width="14.5" height="2" fill="#bdbdbd"/><rect x="41" y="960.5" width="6" height="11.8" fill="#f2f2f2"/><polygon points="55,960.5 64,960.5 58.5,972.2 52.5,972.2" fill="#f2f2f2"/><rect x="30" y="967.5" width="40" height="6" fill="#131316" fill-opacity="0.45"/></g>
<text x="19" y="995.5" font-size="20.5" fill="#7c8192" text-anchor="start" font-weight="normal" textLength="60" lengthAdjust="spacingAndGlyphs">成交量</text>
<text x="79.5" y="993.7" font-size="17" fill="#7c8192" text-anchor="start" font-weight="normal" textLength="80.2" lengthAdjust="spacingAndGlyphs">(Volume)</text>
<text x="174.3" y="993.7" font-size="17" fill="#3cbf87" text-anchor="start" font-weight="normal" textLength="60.1" lengthAdjust="spacingAndGlyphs">1.281K</text>
<rect x="1929" y="60" width="119" height="949" fill="#1a1b20"/>
<rect x="0" y="1009" width="2048" height="42" fill="#1a1b20"/>
<clipPath id="axclip"><rect x="1929" y="60" width="119" height="899"/></clipPath><g clip-path="url(#axclip)">
<text x="1941.6" y="70.4" font-size="18" fill="#7d8390" textLength="90.6" lengthAdjust="spacingAndGlyphs">132,000.00</text>
<text x="1941.6" y="162.4" font-size="18" fill="#7d8390" textLength="90.6" lengthAdjust="spacingAndGlyphs">128,000.00</text>
<text x="1941.6" y="209.4" font-size="18" fill="#7d8390" textLength="90.6" lengthAdjust="spacingAndGlyphs">126,000.00</text>
<text x="1941.6" y="257.4" font-size="18" fill="#7d8390" textLength="90.6" lengthAdjust="spacingAndGlyphs">124,000.00</text>
<text x="1941.6" y="305.4" font-size="18" fill="#7d8390" textLength="90.6" lengthAdjust="spacingAndGlyphs">122,000.00</text>
<text x="1941.6" y="355.4" font-size="18" fill="#7d8390" textLength="90.6" lengthAdjust="spacingAndGlyphs">120,000.00</text>
<text x="1941.6" y="406.4" font-size="18" fill="#7d8390" textLength="90.6" lengthAdjust="spacingAndGlyphs">118,000.00</text>
<text x="1941.6" y="457.4" font-size="18" fill="#7d8390" textLength="90.6" lengthAdjust="spacingAndGlyphs">116,000.00</text>
<text x="1941.6" y="509.4" font-size="18" fill="#7d8390" textLength="90.6" lengthAdjust="spacingAndGlyphs">114,000.00</text>
<text x="1941.6" y="562.4" font-size="18" fill="#7d8390" textLength="90.6" lengthAdjust="spacingAndGlyphs">112,000.00</text>
<text x="1941.6" y="671.4" font-size="18" fill="#7d8390" textLength="90.6" lengthAdjust="spacingAndGlyphs">108,000.00</text>
<text x="1941.6" y="727.4" font-size="18" fill="#7d8390" textLength="90.6" lengthAdjust="spacingAndGlyphs">106,000.00</text>
<text x="1941.6" y="784.4" font-size="18" fill="#7d8390" textLength="90.6" lengthAdjust="spacingAndGlyphs">104,000.00</text>
<text x="1941.6" y="842.4" font-size="18" fill="#7d8390" textLength="90.6" lengthAdjust="spacingAndGlyphs">102,000.00</text>
<text x="1941.6" y="895.4" font-size="18" fill="#7d8390" textLength="90.6" lengthAdjust="spacingAndGlyphs">100,250.00</text>
<text x="1941.6" y="942.4" font-size="18" fill="#7d8390" textLength="81.5" lengthAdjust="spacingAndGlyphs">98,650.00</text>
</g>
<rect x="1929" y="460.6" width="112" height="27.1" rx="2" fill="#38bd89"/>
<text x="1941.4" y="481" font-size="18" fill="#0b0b0b" textLength="91.4" lengthAdjust="spacingAndGlyphs">115,178.44</text>
<rect x="1929" y="592.9" width="112" height="27.1" rx="2" fill="#f7e23c"/>
<text x="1941.4" y="613.3" font-size="18" fill="#0b0b0b" textLength="91.4" lengthAdjust="spacingAndGlyphs">110,207.65</text>
<rect x="1929" y="981.6" width="76.8" height="26.2" fill="#38bd89"/>
<text x="1941.5" y="1001.6" font-size="18" fill="#0b0b0b" textLength="55" lengthAdjust="spacingAndGlyphs">1.281K</text>
<text x="126.5" y="1036.7" font-size="18.5" fill="#7d8390" text-anchor="middle" font-weight="normal">19</text>
<text x="312.5" y="1036.7" font-size="18.5" fill="#7d8390" text-anchor="middle" font-weight="bold">8月</text>
<text x="440.5" y="1036.7" font-size="18.5" fill="#7d8390" text-anchor="middle" font-weight="normal">10</text>
<text x="569" y="1036.7" font-size="18.5" fill="#7d8390" text-anchor="middle" font-weight="normal">19</text>
<text x="754.5" y="1036.7" font-size="18.5" fill="#7d8390" text-anchor="middle" font-weight="bold">9月</text>
<text x="883" y="1036.7" font-size="18.5" fill="#7d8390" text-anchor="middle" font-weight="normal">10</text>
<text x="1011" y="1036.7" font-size="18.5" fill="#7d8390" text-anchor="middle" font-weight="normal">19</text>
<text x="1183" y="1036.7" font-size="18.5" fill="#7d8390" text-anchor="middle" font-weight="bold">10月</text>
<text x="1310.5" y="1036.7" font-size="18.5" fill="#7d8390" text-anchor="middle" font-weight="normal">10</text>
<text x="1439" y="1036.7" font-size="18.5" fill="#7d8390" text-anchor="middle" font-weight="normal">19</text>
<text x="1625" y="1036.7" font-size="18.5" fill="#7d8390" text-anchor="middle" font-weight="bold">11月</text>
<text x="1753" y="1036.7" font-size="18.5" fill="#7d8390" text-anchor="middle" font-weight="normal">10</text>
<text x="1881.5" y="1036.7" font-size="18.5" fill="#7d8390" text-anchor="middle" font-weight="normal">19</text>
<polygon points="1999.7,1029.7 1994.2,1039.23 1983.2,1039.23 1977.7,1029.7 1983.2,1020.17 1994.2,1020.17" fill="none" stroke="#d0d0d4" stroke-width="1.5"/>
<circle cx="1988.7" cy="1029.7" r="3.6" fill="none" stroke="#d0d0d4" stroke-width="1.5"/>
<line x1="1928" y1="959.5" x2="2048" y2="959.5" stroke="#3a3b40" stroke-width="1.2"/>
<circle cx="2000" cy="962.5" r="30.5" fill="#050505" stroke="#6b6b6b" stroke-width="2.5"/>
<path d="M1986.5,949 h7.5 v11 l11,-11 h9.5 l-12.5,12.5 l13.5,14.5 h-9.5 l-12,-13 v13 h-7.5 z" fill="#f4f4f4"/>
<radialGradient id="kg" cx="0.5" cy="0.5" r="0.5"><stop offset="0" stop-color="#ffffff" stop-opacity="0.45"/><stop offset="1" stop-color="#ffffff" stop-opacity="0"/></radialGradient>
<clipPath id="kclip"><circle cx="2000" cy="962.5" r="29"/></clipPath>
<g clip-path="url(#kclip)"><ellipse cx="2004" cy="989" rx="24" ry="11" fill="url(#kg)"/><ellipse cx="2024" cy="970" rx="8" ry="16" fill="url(#kg)" opacity="0.6"/></g>
<circle cx="2018" cy="946" r="3.2" fill="#2f7bf5"/>
<line x1="1928.5" y1="60" x2="1928.5" y2="1051" stroke="#2e323c" stroke-width="1"/>
<line x1="0" y1="1008.5" x2="2048" y2="1008.5" stroke="#2e323c" stroke-width="1.2"/>
<rect x="0" y="60" width="5" height="991" fill="#343434"/>
<rect x="0" y="982" width="3" height="35" rx="1.5" fill="#161616"/>
<circle cx="35.9" cy="27.8" r="18" fill="#f2941d"/>
<text x="36.5" y="35.5" font-size="23" font-weight="bold" fill="#ffffff" text-anchor="middle" transform="rotate(14 36 28)">₿</text>
<text x="93.7" y="28.6" font-size="30.5" font-weight="normal" fill="#e9e9ed" stroke="#e9e9ed" stroke-width="0.9" textLength="146.3" lengthAdjust="spacingAndGlyphs">BTC/USDT</text>
<polygon points="252.7,12 265.9,12 259.3,19.8" fill="#e9e9ed"/>
<text x="93.7" y="54.2" font-size="16.5" fill="#7c8290" textLength="92.5" lengthAdjust="spacingAndGlyphs">Bitcoin价格</text>
<path d="M191.5,51.5 L198,45.5 M193.5,45.5 H198 V50" fill="none" stroke="#7c8290" stroke-width="1.1"/>
<text x="326.4" y="36.3" font-size="18.5" fill="#8a8f9a" font-weight="normal" textLength="37.9" lengthAdjust="spacingAndGlyphs">分时</text>
<text x="380.9" y="36.3" font-size="18.5" fill="#8a8f9a" font-weight="normal" textLength="28.1" lengthAdjust="spacingAndGlyphs">1秒</text>
<text x="425.9" y="36.3" font-size="18.5" fill="#8a8f9a" font-weight="normal" textLength="57.6" lengthAdjust="spacingAndGlyphs">15分钟</text>
<text x="500.4" y="36.3" font-size="18.5" fill="#8a8f9a" font-weight="normal" textLength="47.5" lengthAdjust="spacingAndGlyphs">1小时</text>
<text x="563" y="36.3" font-size="18.5" fill="#8a8f9a" font-weight="normal" textLength="48.2" lengthAdjust="spacingAndGlyphs">4小时</text>
<text x="627" y="36.3" font-size="18.5" fill="#ffffff" font-weight="bold" textLength="28" lengthAdjust="spacingAndGlyphs">1日</text>
<text x="672.7" y="36.3" font-size="18.5" fill="#8a8f9a" font-weight="normal" textLength="28.1" lengthAdjust="spacingAndGlyphs">1周</text>
<polygon points="728.5,25.2 739.5,25.2 734,31.5" fill="#8a8f9a"/>
<g fill="none" stroke="#8a8f9a" stroke-width="1.5"><polyline points="774.1,18 774.1,38.5 794.8,38.5"/><polyline points="776.4,34.8 784,28 786.6,31.3 793.8,25.2"/><rect x="825.6" y="24.5" width="7" height="8.2"/><line x1="829.1" y1="20.3" x2="829.1" y2="24.5"/><line x1="829.1" y1="32.7" x2="829.1" y2="36.2"/><rect x="835.8" y="21.9" width="7.3" height="13.3"/><line x1="839.5" y1="18.3" x2="839.5" y2="21.9"/><line x1="839.5" y1="35.2" x2="839.5" y2="38.3"/><path d="M874.6,23.3 H880.2 L881.6,20 H887.1 L888.5,23.3 H894 V37 H874.6 Z" stroke-linejoin="round"/><circle cx="884.2" cy="29.4" r="3.7"/><circle cx="934" cy="28.2" r="10.4"/><line x1="928.7" y1="28.2" x2="939.3" y2="28.2"/><line x1="934" y1="22.9" x2="934" y2="33.5"/></g>
<polygon points="777.6,19.2 784.2,19.2 780.9,23" fill="#8a8f9a"/>
<polygon points="992.76,33.2 984.1,38.2 975.44,33.2 975.44,23.2 984.1,18.2 992.76,23.2" fill="none" stroke="#8a8f9a" stroke-width="1.5"/>
<polygon points="984.1,24.6 987.7,28.2 984.1,31.8 980.5,28.2" fill="#8a8f9a"/>
<text x="1754" y="36.3" font-size="18.5" fill="#8a8f9a" textLength="55.6" lengthAdjust="spacingAndGlyphs">基本版</text>
<text x="1835" y="36" font-size="18" font-weight="normal" fill="#e8e8ec" stroke="#e8e8ec" stroke-width="0.6" textLength="108.8" lengthAdjust="spacingAndGlyphs">Trading View</text>
<text x="1968.5" y="36.3" font-size="18.5" fill="#8a8f9a" textLength="56" lengthAdjust="spacingAndGlyphs">深度图</text>
</svg>
</div></body></html>
